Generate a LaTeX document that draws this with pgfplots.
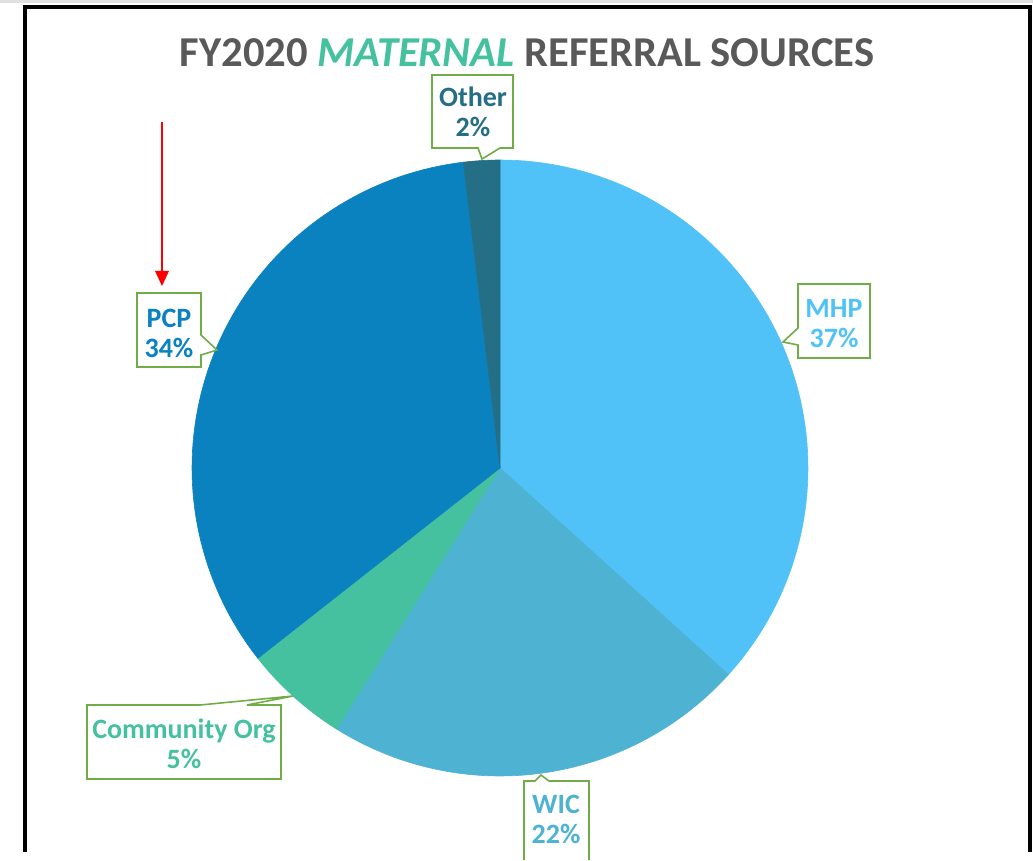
\documentclass[border=0pt]{standalone}
\usepackage{pgfplots}
\pgfplotsset{compat=1.18}
\usepackage{pgfplotstable}
\usepackage{fontspec}
\setmainfont{Carlito}
\definecolor{cMHP}{HTML}{50C2F8}
\definecolor{cWIC}{HTML}{4EB2D2}
\definecolor{cCOM}{HTML}{45C1A0}
\definecolor{cPCP}{HTML}{0A82C0}
\definecolor{cOTH}{HTML}{246E86}
\definecolor{cTitle}{HTML}{595959}
\definecolor{cBox}{HTML}{70AD47}
\pgfplotstableread{
label value
MHP 36.7
WIC 22.2
Community 5.5
PCP 33.7
Other 1.9
}\pietable
\begin{document}
\begin{tikzpicture}
\pgfplotstablegetelem{0}{value}\of\pietable \pgfmathsetmacro\va{\pgfplotsretval}
\pgfplotstablegetelem{1}{value}\of\pietable \pgfmathsetmacro\vb{\va+\pgfplotsretval}
\pgfplotstablegetelem{2}{value}\of\pietable \pgfmathsetmacro\vc{\vb+\pgfplotsretval}
\pgfplotstablegetelem{3}{value}\of\pietable \pgfmathsetmacro\vd{\vc+\pgfplotsretval}
\pgfplotstablegetelem{4}{value}\of\pietable \pgfmathsetmacro\ve{\vd+\pgfplotsretval}
\def\cx{500}\def\cy{468}\def\R{308}
\begin{axis}[
  scale only axis, width=516.5pt, height=426pt,
  xmin=0, xmax=1033, ymin=0, ymax=852, y dir=reverse,
  hide axis, clip=false,
]
% top light band
\addplot[fill=black!12, draw=none] coordinates {(0,0) (1033,0) (1033,3) (0,3)} -- cycle;
% pie slices
\addplot[fill=cMHP, draw=cMHP, line width=0.3pt, line join=round, domain=0:\va, samples=80]
  ({\cx+\R*sin(3.6*x)}, {\cy-\R*cos(3.6*x)}) -- (axis cs:\cx,\cy) -- cycle;
\addplot[fill=cWIC, draw=cWIC, line width=0.3pt, line join=round, domain=\va:\vb, samples=60]
  ({\cx+\R*sin(3.6*x)}, {\cy-\R*cos(3.6*x)}) -- (axis cs:\cx,\cy) -- cycle;
\addplot[fill=cCOM, draw=cCOM, line width=0.3pt, line join=round, domain=\vb:\vc, samples=20]
  ({\cx+\R*sin(3.6*x)}, {\cy-\R*cos(3.6*x)}) -- (axis cs:\cx,\cy) -- cycle;
\addplot[fill=cPCP, draw=cPCP, line width=0.3pt, line join=round, domain=\vc:\vd, samples=80]
  ({\cx+\R*sin(3.6*x)}, {\cy-\R*cos(3.6*x)}) -- (axis cs:\cx,\cy) -- cycle;
\addplot[fill=cOTH, draw=cOTH, line width=0.3pt, line join=round, domain=\vd:\ve, samples=10]
  ({\cx+\R*sin(3.6*x)}, {\cy-\R*cos(3.6*x)}) -- (axis cs:\cx,\cy) -- cycle;
% frame
\draw[black, line width=1.6pt] (axis cs:25,852) -- (axis cs:25,7) -- (axis cs:1030,7) -- (axis cs:1030,852);
% title
\node[font=\fontsize{21.3}{25}\selectfont\bfseries, text=cTitle] at (axis cs:527,53)
  {FY2020 \textcolor{cCOM}{\itshape MATERNAL} REFERRAL SOURCES};
% callouts
\tikzset{callout/.style={draw=cBox, line width=0.8pt, fill=white, line join=miter}}
\tikzset{lbl/.style={font=\fontsize{14}{15}\selectfont\bfseries, align=center}}
% Other
\draw[callout] (axis cs:432,75) -- (axis cs:513,75) -- (axis cs:513,148) -- (axis cs:500,148)
  -- (axis cs:482,159) -- (axis cs:478,148) -- (axis cs:432,148) -- cycle;
\node[lbl, text=cOTH] at (axis cs:473,112) {Other\\2\%};
% PCP
\draw[callout] (axis cs:137,293) -- (axis cs:201,293) -- (axis cs:201,335) -- (axis cs:217,350)
  -- (axis cs:201,355) -- (axis cs:201,367) -- (axis cs:137,367) -- cycle;
\node[lbl, text=cPCP] at (axis cs:169,333) {PCP\\34\%};
% MHP
\draw[callout] (axis cs:798,284) -- (axis cs:870,284) -- (axis cs:870,358) -- (axis cs:798,358)
  -- (axis cs:798,345) -- (axis cs:783,342) -- (axis cs:798,328) -- cycle;
\node[lbl, text=cMHP] at (axis cs:834,324) {MHP\\37\%};
% Community Org
\draw[callout] (axis cs:87,705) -- (axis cs:200,705) -- (axis cs:293,696) -- (axis cs:247,705)
  -- (axis cs:281,705) -- (axis cs:281,779) -- (axis cs:87,779) -- cycle;
\node[lbl, text=cCOM] at (axis cs:184,744) {Community Org\\5\%};
% WIC
\draw[callout] (axis cs:524,860) -- (axis cs:524,781) -- (axis cs:535,781) -- (axis cs:541,775)
  -- (axis cs:549,781) -- (axis cs:589,781) -- (axis cs:589,860);
\node[lbl, text=cWIC] at (axis cs:556,819) {WIC\\22\%};
% red arrow
\draw[red, line width=1pt] (axis cs:162,122) -- (axis cs:162,272);
\fill[red] (axis cs:155,271) -- (axis cs:169,271) -- (axis cs:162,286) -- cycle;
\end{axis}
\end{tikzpicture}
\end{document}
